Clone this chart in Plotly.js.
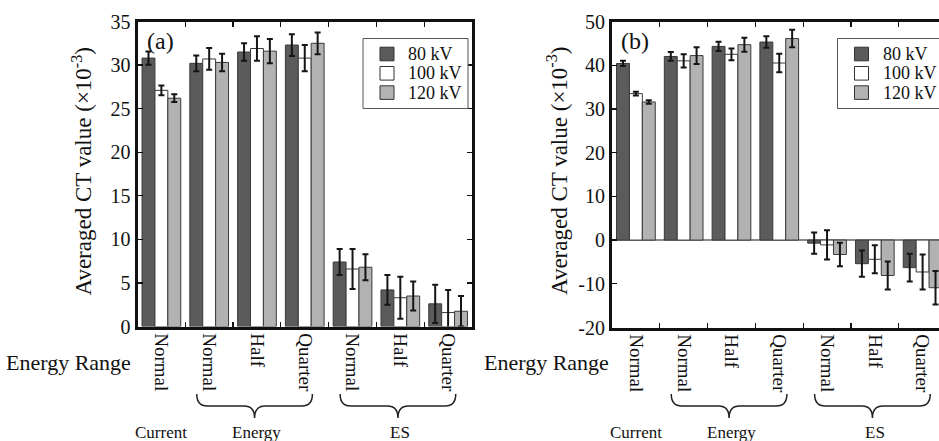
<!DOCTYPE html>
<html>
<head>
<meta charset="utf-8">
<script src="https://cdn.plot.ly/plotly-3.0.1.min.js"></script>
<style>
  html, body { margin: 0; padding: 0; background: #fff; overflow: hidden; }
  #chart { width: 960px; height: 441px; }
</style>
</head>
<body>
<div id="chart"></div>
<script>
// Energy-range categories along the x axis
const categories = ['Normal', 'Normal', 'Half', 'Quarter', 'Normal', 'Half', 'Quarter'];
// Reconstruction groups and the category indices they cover
const groupNames = ['Current', 'Energy', 'ES'];
const groupFirst = [0, 1, 4];
const groupLast = [0, 3, 6];

// Tube voltages
const seriesNames = ['80 kV', '100 kV', '120 kV'];

// (a) averaged CT values (x10^-3) and standard deviations
const a80 = [30.8, 30.2, 31.5, 32.3, 7.4, 4.2, 2.6];
const a80Err = [0.75, 0.9, 1.0, 1.25, 1.5, 1.7, 2.2];
const a100 = [27.1, 30.7, 31.9, 30.8, 6.6, 3.3, 1.6];
const a100Err = [0.55, 1.25, 1.4, 1.5, 2.3, 2.4, 2.6];
const a120 = [26.2, 30.3, 31.6, 32.5, 6.8, 3.5, 1.75];
const a120Err = [0.45, 1.0, 1.4, 1.25, 1.5, 1.67, 1.75];

// (b) averaged CT values (x10^-3) and standard deviations
const b80 = [40.4, 42.0, 44.3, 45.3, -0.7, -5.4, -6.3];
const b80Err = [0.6, 1.0, 1.05, 1.3, 2.45, 3.0, 3.15];
const b100 = [33.5, 41.0, 42.5, 40.5, -1.1, -4.4, -7.3];
const b100Err = [0.45, 1.5, 1.35, 2.1, 3.35, 3.2, 4.0];
const b120 = [31.6, 42.2, 44.7, 46.1, -3.3, -8.1, -10.9];
const b120Err = [0.4, 1.9, 1.6, 2.0, 2.7, 3.2, 3.85];

// y-axis ticks
const aTicks = [0, 5, 10, 15, 20, 25, 30, 35];
const aTickText = ['0', '5', '10', '15', '20', '25', '30', '35'];
const bTicks = [-20, -10, 0, 10, 20, 30, 40, 50];
const bTickText = ['-20', '-10', '0', '10', '20', '30', '40', '50'];

// ---- styling ----
const W = 960, H = 441;
const FONT = 'Liberation Serif, Times New Roman, serif';
const INK = '#111';
const fills = ['#5b5b5b', '#ffffff', '#b2b2b2'];

// pixel -> paper helpers (margins are zero, so paper spans the whole figure)
const px = v => v / W;
const py = v => 1 - v / H;

const idx = categories.map((_, i) => i);
const boundaries = idx.slice(1).map(i => i - 0.5);

function barTrace(name, y, err, k, xa, ya) {
  return {
    type: 'bar', name: name, x: idx, y: y,
    xaxis: xa, yaxis: ya, showlegend: false,
    marker: { color: fills[k], line: { color: '#3a3a3a', width: 1 } },
    error_y: { type: 'data', array: err, visible: true, color: '#151515', thickness: 2, width: 3 },
    hoverinfo: 'skip'
  };
}

const data = [
  barTrace(seriesNames[0], a80, a80Err, 0, 'x', 'y'),
  barTrace(seriesNames[1], a100, a100Err, 1, 'x', 'y'),
  barTrace(seriesNames[2], a120, a120Err, 2, 'x', 'y'),
  barTrace(seriesNames[0], b80, b80Err, 0, 'x2', 'y2'),
  barTrace(seriesNames[1], b100, b100Err, 1, 'x2', 'y2'),
  barTrace(seriesNames[2], b120, b120Err, 2, 'x2', 'y2')
];

function xAxis(domain) {
  return {
    domain: domain, range: [-0.5, categories.length - 0.5],
    tickmode: 'array', tickvals: idx, ticktext: categories, tickangle: 90,
    ticks: '', showgrid: false, zeroline: false,
    showline: true, linewidth: 3, linecolor: INK, mirror: 'allticks',
    minor: { tickmode: 'array', tickvals: boundaries, ticks: 'inside', ticklen: 5,
             tickwidth: 1.2, tickcolor: INK, showgrid: false },
    tickfont: { family: FONT, size: 19, color: INK },
    fixedrange: true
  };
}
function yAxis(domain, range, vals, text, anchor, zero) {
  return {
    domain: domain, range: range, anchor: anchor,
    tickmode: 'array', tickvals: vals, ticktext: text,
    ticks: 'inside', ticklen: 5, tickwidth: 1.2, tickcolor: INK,
    showline: true, linewidth: 3, linecolor: INK, mirror: 'allticks',
    showgrid: false, zeroline: zero, zerolinecolor: '#8a8a8a', zerolinewidth: 2,
    tickfont: { family: FONT, size: 20, color: INK },
    fixedrange: true
  };
}

// panel geometry (pixels)
const panels = [
  { left: 137.5, right: 472, top: 21.5, bottom: 326.5, xa: 'x', tag: '(a)', yTitleX: 82, rangeLabelRight: 133 },
  { left: 612, right: 946.5, top: 21.5, bottom: 327.5, xa: 'x2', tag: '(b)', yTitleX: 557.5, rangeLabelRight: 611 }
];

const layout = {
  width: W, height: H,
  margin: { l: 0, r: 0, t: 0, b: 0, pad: 0 },
  paper_bgcolor: '#fff', plot_bgcolor: '#fff',
  barmode: 'group', bargap: 0.19, bargroupgap: 0,
  font: { family: FONT, color: INK },
  xaxis: Object.assign(xAxis([px(panels[0].left), px(panels[0].right)]), { anchor: 'y' }),
  yaxis: yAxis([py(panels[0].bottom), py(panels[0].top)], [0, 35], aTicks, aTickText, 'x', false),
  xaxis2: Object.assign(xAxis([px(panels[1].left), px(panels[1].right)]), { anchor: 'y2' }),
  yaxis2: yAxis([py(panels[1].bottom), py(panels[1].top)], [-20, 50], bTicks, bTickText, 'x2', true),
  shapes: [],
  annotations: []
};

// curly brace under a group of categories (x in data units, y in pixels)
function bracePath(x0, x1, yTop, yMid, yTip, r) {
  const yt = py(yTop), ym = py(yMid), yp = py(yTip);
  const xm = (x0 + x1) / 2;
  return 'M' + x0 + ',' + yt +
    ' Q' + x0 + ',' + ym + ' ' + (x0 + r) + ',' + ym +
    ' L' + (xm - r) + ',' + ym +
    ' Q' + xm + ',' + ym + ' ' + xm + ',' + yp +
    ' Q' + xm + ',' + ym + ' ' + (xm + r) + ',' + ym +
    ' L' + (x1 - r) + ',' + ym +
    ' Q' + x1 + ',' + ym + ' ' + x1 + ',' + yt;
}

panels.forEach(p => {
  // legend box
  const bx0 = p.right - 109, bx1 = p.right - 4, by0 = 38.5, by1 = 108.5;
  layout.shapes.push({ type: 'rect', xref: 'paper', yref: 'paper',
    x0: px(bx0), x1: px(bx1), y0: py(by1), y1: py(by0),
    line: { color: '#555', width: 1 }, fillcolor: '#fff', layer: 'above' });
  seriesNames.forEach((name, k) => {
    const cy = 54 + k * 19.3;
    layout.shapes.push({ type: 'rect', xref: 'paper', yref: 'paper',
      x0: px(bx0 + 17), x1: px(bx0 + 31), y0: py(cy + 6.8), y1: py(cy - 6.8),
      line: { color: '#333', width: 1 }, fillcolor: fills[k], layer: 'above' });
    layout.annotations.push({ xref: 'paper', yref: 'paper', x: px(bx0 + 43), y: py(cy),
      xanchor: 'left', yanchor: 'middle', showarrow: false, text: name,
      font: { family: FONT, size: 18, color: INK } });
  });

  // panel tag
  layout.annotations.push({ xref: 'paper', yref: 'paper', x: px(p.left + 7), y: py(41),
    xanchor: 'left', yanchor: 'middle', showarrow: false, text: p.tag,
    font: { family: FONT, size: 24, color: INK } });

  // y title
  layout.annotations.push({ xref: 'paper', yref: 'paper', x: px(p.yTitleX), y: py(171.5),
    xanchor: 'center', yanchor: 'middle', showarrow: false, textangle: -90,
    text: 'Averaged CT value (×10<sup>-3</sup>)',
    font: { family: FONT, size: 23, color: INK } });

  // x title
  layout.annotations.push({ xref: 'paper', yref: 'paper', x: px(p.rangeLabelRight), y: py(362),
    xanchor: 'right', yanchor: 'middle', showarrow: false, text: 'Energy Range',
    font: { family: FONT, size: 22, color: INK } });

  // group braces and group names
  groupNames.forEach((g, j) => {
    const first = groupFirst[j], last = groupLast[j];
    if (last > first) {
      layout.shapes.push({ type: 'path', xref: p.xa, yref: 'paper',
        path: bracePath(first - 0.26, last + 0.16, 394, 406, 418, 0.22),
        line: { color: '#222', width: 1.5 } });
    }
    layout.annotations.push({ xref: p.xa, yref: 'paper', x: (first + last) / 2, y: py(432),
      xanchor: 'center', yanchor: 'middle', showarrow: false, text: g,
      font: { family: FONT, size: 17, color: INK } });
  });
});

Plotly.newPlot('chart', data, layout, { staticPlot: true, displayModeBar: false });
</script>
</body>
</html>
